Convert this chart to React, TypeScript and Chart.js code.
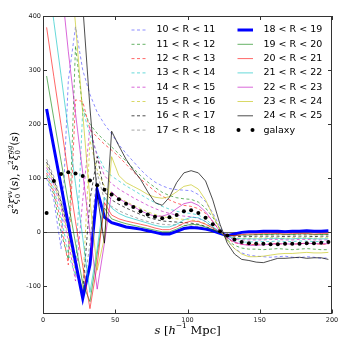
import React, { useEffect, useRef } from "react";
import { Chart, registerables } from "chart.js";
Chart.register(...registerables);

// separation s [h^-1 Mpc]
const sGrid = [2.5, 7.5, 12.5, 17.5, 22.5, 27.5, 32.5, 37.5, 42.5, 47.5, 52.5, 57.5, 62.5, 67.5, 72.5, 77.5, 82.5, 87.5, 92.5, 97.5, 102.5, 107.5, 112.5, 117.5, 122.5, 127.5, 132.5, 137.5, 142.5, 147.5, 152.5, 157.5, 162.5, 167.5, 172.5, 177.5, 182.5, 187.5, 192.5, 197.5];

const r10_11 = [100, 60, -30, 280, 380, 300, 255, 222, 200, 182, 162, 146, 131, 116, 103, 93, 86, 81, 79, 78, 77, 70, 57, 36, 10, -15, -30, -38, -42, -44, -45, -46, -45, -44, -46, -47, -45, -46, -48, -47];
const r11_12 = [105, 70, 0, -50, 345, 228, 200, 183, 170, 158, 145, 132, 118, 105, 93, 83, 74, 68, 64, 62, 61, 56, 45, 28, 6, -14, -24, -29, -31, -31, -32, -31, -30, -31, -32, -31, -30, -31, -32, -32];
const r12_13 = [110, 75, 20, -60, 245, 242, 190, 176, 163, 152, 140, 126, 112, 99, 87, 76, 67, 60, 54, 50, 48, 44, 35, 20, 2, -12, -19, -22, -23, -22, -22, -21, -21, -22, -22, -21, -20, -21, -22, -22];
const r13_14 = [115, 80, 30, -40, -80, 227, 180, 145, 118, 104, 95, 86, 78, 70, 62, 55, 48, 43, 39, 36, 35, 32, 25, 13, -1, -11, -16, -18, -18, -17, -17, -17, -16, -17, -17, -16, -16, -17, -17, -17];
const r14_15 = [120, 88, 45, -15, -90, 60, 195, 140, 105, 90, 80, 72, 64, 57, 50, 44, 39, 35, 32, 30, 29, 26, 20, 10, -1, -9, -13, -14, -14, -14, -14, -13, -13, -14, -14, -13, -13, -14, -14, -14];
const r15_16 = [125, 92, 50, -5, -75, -100, 170, 115, 85, 72, 64, 57, 50, 44, 38, 33, 29, 27, 25, 24, 23, 21, 16, 8, -1, -7, -10, -11, -11, -10, -10, -10, -10, -11, -10, -10, -10, -11, -10, -10];
const r16_17 = [130, 98, 55, 5, -55, -110, 60, 140, 75, 60, 52, 45, 39, 33, 28, 24, 21, 20, 19, 18, 17, 15, 11, 5, -1, -5, -7, -8, -8, -7, -7, -7, -7, -8, -7, -7, -7, -8, -7, -7];
const r17_18 = [135, 103, 60, 10, -50, -118, -20, 110, 60, 48, 40, 34, 29, 24, 20, 17, 15, 14, 14, 13, 12, 11, 8, 3, -1, -4, -5, -5, -5, -4, -4, -4, -4, -5, -4, -4, -4, -5, -4, -4];
const r18_19 = [228, 157, 86, 15, -55, -122, -60, 78, 28, 18, 14, 10, 8, 6, 3, 0, -3, -3, 2, 7, 9, 8, 6, 3, -2, -6, -3, 0, 1, 1, 2, 2, 2, 1, 2, 2, 3, 2, 2, 3];
const r19_20 = [289, 210, 132, 55, -20, -95, -128, -40, 45, 25, 20, 16, 13, 10, 7, 4, 1, 1, 6, 12, 15, 14, 10, 5, -1, -6, -6, -5, -5, -4, -4, -4, -3, -4, -4, -3, -3, -4, -4, -4];
const r20_21 = [379, 288, 198, 108, 20, -62, -141, -60, 55, 32, 25, 21, 18, 15, 12, 8, 5, 5, 10, 17, 21, 20, 15, 8, 0, -6, -6, -4, -3, -3, -2, -2, -2, -3, -2, -2, -2, -3, -2, -2];
const r21_22 = [490, 390, 290, 190, 90, -10, -111, -30, 65, 45, 35, 29, 25, 21, 17, 13, 10, 10, 15, 23, 28, 27, 20, 10, 0, -8, -11, -12, -12, -12, -12, -11, -11, -12, -12, -11, -11, -12, -12, -12];
const r22_23 = [null, null, 465, 335, 220, 110, 0, -105, -20, 75, 62, 55, 48, 40, 34, 30, 30, 34, 44, 53, 56, 50, 38, 20, 2, -10, -18, -22, -24, -24, -23, -22, -21, -21, -22, -21, -20, -21, -21, -21];
const r23_24 = [null, null, null, 530, 385, 220, 60, -70, -10, 140, 105, 92, 85, 78, 70, 65, 63, 66, 75, 85, 88, 80, 60, 32, 5, -15, -30, -40, -45, -45, -44, -42, -40, -39, -39, -38, -37, -38, -38, -37];
const r24_25 = [null, null, null, null, 620, 420, 230, 70, -20, 187, 160, 135, 115, 98, 75, 55, 50, 65, 92, 110, 114, 110, 95, 60, 15, -20, -40, -50, -52, -55, -56, -52, -48, -48, -47, -46, -48, -47, -47, -50];
const galaxy = [36, 95, 108, 111, 109, 104, 96, 87, 79, 70, 61, 53, 47, 39, 33, 29, 26, 28, 32, 39, 41, 36, 27, 15, 2, -6, -13, -18, -20, -21, -21, -22, -22, -21, -21, -21, -20, -20, -19, -18];

const xTicks = [0, 50, 100, 150, 200];
const yTicks = [-100, 0, 100, 200, 300, 400];

const DASH = [3, 2.5];
const series = [
  { label: "10 < R < 11", values: r10_11, color: "rgba(0,0,255,0.45)", width: 1, dash: DASH },
  { label: "11 < R < 12", values: r11_12, color: "rgba(0,128,0,0.6)", width: 1, dash: DASH },
  { label: "12 < R < 13", values: r12_13, color: "rgba(255,0,0,0.6)", width: 1, dash: DASH },
  { label: "13 < R < 14", values: r13_14, color: "rgba(0,191,191,0.6)", width: 1, dash: DASH },
  { label: "14 < R < 15", values: r14_15, color: "rgba(191,0,191,0.6)", width: 1, dash: DASH },
  { label: "15 < R < 16", values: r15_16, color: "rgba(191,191,0,0.6)", width: 1, dash: DASH },
  { label: "16 < R < 17", values: r16_17, color: "rgba(0,0,0,0.7)", width: 1, dash: DASH },
  { label: "17 < R < 18", values: r17_18, color: "rgba(0,0,0,0.35)", width: 1, dash: DASH },
  { label: "18 < R < 19", values: r18_19, color: "rgb(0,0,255)", width: 3, dash: [] },
  { label: "19 < R < 20", values: r19_20, color: "rgba(0,128,0,0.6)", width: 1, dash: [] },
  { label: "20 < R < 21", values: r20_21, color: "rgba(255,0,0,0.6)", width: 1, dash: [] },
  { label: "21 < R < 22", values: r21_22, color: "rgba(0,191,191,0.6)", width: 1, dash: [] },
  { label: "22 < R < 23", values: r22_23, color: "rgba(191,0,191,0.6)", width: 1, dash: [] },
  { label: "23 < R < 24", values: r23_24, color: "rgba(191,191,0,0.6)", width: 1, dash: [] },
  { label: "24 < R < 25", values: r24_25, color: "rgba(0,0,0,0.7)", width: 1, dash: [] },
];

type Seg = { t: string; size: number; dy: number; it?: boolean; noAdv?: boolean };
const SERIF = "'DejaVu Serif'";
const fontOf = (s: Seg) => `${s.it ? "italic " : ""}${s.size}px ${SERIF}`;
function drawRich(ctx: CanvasRenderingContext2D, segs: Seg[], cx: number, cy: number) {
  let w = 0;
  for (const s of segs) {
    ctx.font = fontOf(s);
    if (!s.noAdv) w += ctx.measureText(s.t).width;
  }
  let x = cx - w / 2;
  ctx.textBaseline = "middle";
  ctx.textAlign = "left";
  for (const s of segs) {
    ctx.font = fontOf(s);
    ctx.fillText(s.t, x, cy + s.dy);
    if (!s.noAdv) x += ctx.measureText(s.t).width;
  }
}

const B = 10.5, S = 7;
const yLabel: Seg[] = [
  { t: "s", size: B, dy: 0, it: true },
  { t: "2", size: S, dy: -4 },
  { t: "ξ", size: B, dy: 0, it: true },
  { t: "0", size: S, dy: 3, noAdv: true },
  { t: "vv", size: S, dy: -4.5, it: true },
  { t: "(", size: B, dy: 0 },
  { t: "s", size: B, dy: 0, it: true },
  { t: "), ", size: B, dy: 0 },
  { t: "s", size: B, dy: 0, it: true },
  { t: "2", size: S, dy: -4 },
  { t: "ξ", size: B, dy: 0, it: true },
  { t: "0", size: S, dy: 3, noAdv: true },
  { t: "gg", size: S, dy: -4.5, it: true },
  { t: "(", size: B, dy: 0 },
  { t: "s", size: B, dy: 0, it: true },
  { t: ")", size: B, dy: 0 },
];
const xLabel: Seg[] = [
  { t: "s", size: 11.5, dy: 0, it: true },
  { t: " [", size: 11.5, dy: 0 },
  { t: "h", size: 11.5, dy: 0, it: true },
  { t: "−1", size: 7.5, dy: -4.5 },
  { t: " Mpc", size: 11.5, dy: 0 },
  { t: "]", size: 11.5, dy: 0 },
];

const deco = {
  id: "deco",
  beforeDatasetsDraw(chart: any) {
    const { ctx, chartArea: a, scales } = chart;
    const y0 = Math.round(scales.y.getPixelForValue(0)) + 0.5;
    ctx.save();
    ctx.strokeStyle = "#666";
    ctx.lineWidth = 1;
    ctx.beginPath();
    ctx.moveTo(a.left, y0);
    ctx.lineTo(a.right, y0);
    ctx.stroke();
    ctx.restore();
  },
  afterDraw(chart: any) {
    const { ctx, chartArea: a, scales } = chart;
    ctx.save();
    // frame
    ctx.strokeStyle = "#333";
    ctx.lineWidth = 1;
    ctx.strokeRect(Math.round(a.left) + 0.5, Math.round(a.top) + 0.5, Math.round(a.right - a.left) - 1, Math.round(a.bottom - a.top) - 1);
    // inward ticks
    ctx.beginPath();
    for (const v of xTicks) {
      const px = Math.round(scales.x.getPixelForValue(v)) + 0.5;
      ctx.moveTo(px, a.bottom); ctx.lineTo(px, a.bottom - 4);
      ctx.moveTo(px, a.top); ctx.lineTo(px, a.top + 4);
    }
    for (const v of yTicks) {
      const py = Math.round(scales.y.getPixelForValue(v)) + 0.5;
      ctx.moveTo(a.left, py); ctx.lineTo(a.left + 4, py);
      ctx.moveTo(a.right, py); ctx.lineTo(a.right - 4, py);
    }
    ctx.stroke();

    // legend
    const rowY = (i: number) => 30 + i * 14.3;
    ctx.font = "9.5px 'DejaVu Sans'";
    ctx.textBaseline = "middle";
    ctx.textAlign = "left";
    const items = chart.data.datasets;
    for (let i = 0; i < items.length; i++) {
      const d = items[i];
      const col = i < 8 ? 0 : 1;
      const row = i < 8 ? i : i - 8;
      const y = rowY(row);
      const x1 = col === 0 ? 131.5 : 237.5;
      const x2 = col === 0 ? 146 : 253;
      const tx = col === 0 ? 156.5 : 263.5;
      if (d.showLine === false) {
        ctx.fillStyle = "#000";
        for (const px of [238.5, 252.5]) {
          ctx.beginPath(); ctx.arc(px, y, 2, 0, Math.PI * 2); ctx.fill();
        }
      } else {
        ctx.save();
        ctx.strokeStyle = d.borderColor;
        ctx.lineWidth = d.borderWidth;
        ctx.setLineDash(d.borderDash || []);
        ctx.beginPath(); ctx.moveTo(x1, y); ctx.lineTo(x2, y); ctx.stroke();
        ctx.restore();
      }
      ctx.fillStyle = "#000";
      ctx.font = "9.5px 'DejaVu Sans'";
      ctx.fillText(d.label, tx, y);
    }

    // axis labels
    ctx.fillStyle = "#000";
    drawRich(ctx, xLabel, (a.left + a.right) / 2, 331);
    ctx.save();
    ctx.translate(15, 173);
    ctx.rotate(-Math.PI / 2);
    drawRich(ctx, yLabel, 0, 0);
    ctx.restore();
    ctx.restore();
  },
};

export default function App() {
  const ref = useRef<HTMLCanvasElement>(null);
  useEffect(() => {
    const canvas = ref.current!;
    const n = series.length;
    const datasets: any[] = series.map((s, i) => ({
      label: s.label,
      data: sGrid.map((x, j) => ({ x, y: s.values[j] })),
      borderColor: s.color,
      backgroundColor: s.color,
      borderWidth: s.width,
      borderDash: s.dash,
      pointRadius: 0,
      fill: false,
      tension: 0,
      spanGaps: false,
      order: n - i + 1,
    }));
    datasets.push({
      label: "galaxy",
      data: sGrid.map((x, j) => ({ x, y: galaxy[j] })),
      showLine: false,
      pointRadius: 2,
      pointBackgroundColor: "#000",
      pointBorderWidth: 0,
      borderColor: "#000",
      order: 0,
    });
    const tickFont = { size: 6.5, family: "'DejaVu Sans'" };
    const chart = new Chart(canvas, {
      type: "line",
      data: { datasets },
      options: {
        animation: false,
        responsive: false,
        devicePixelRatio: 1,
        layout: { padding: { left: 0, top: 16, right: 17, bottom: 0 } },
        plugins: { legend: { display: false }, tooltip: { enabled: false } },
        scales: {
          x: {
            type: "linear",
            min: 0,
            max: 200,
            afterBuildTicks: (s: any) => { s.ticks = xTicks.map((v) => ({ value: v })); },
            afterFit: (s: any) => { s.height = 35.5; },
            ticks: { font: tickFont, color: "#222", padding: 3, maxRotation: 0, autoSkip: false },
            grid: { display: false, drawTicks: false },
            border: { display: false },
          },
          y: {
            type: "linear",
            min: -150,
            max: 400,
            afterBuildTicks: (s: any) => { s.ticks = yTicks.map((v) => ({ value: v })); },
            afterFit: (s: any) => { s.width = 43; },
            ticks: { font: tickFont, color: "#222", padding: 2, autoSkip: false },
            grid: { display: false, drawTicks: false },
            border: { display: false },
          },
        },
      } as any,
      plugins: [deco],
    });
    return () => chart.destroy();
  }, []);
  return (
    <div style={{ position: "fixed", left: 0, top: 0, width: 349, height: 349, background: "#fff" }}>
      <canvas ref={ref} width={349} height={349} style={{ width: 349, height: 349, display: "block" }} />
    </div>
  );
}
